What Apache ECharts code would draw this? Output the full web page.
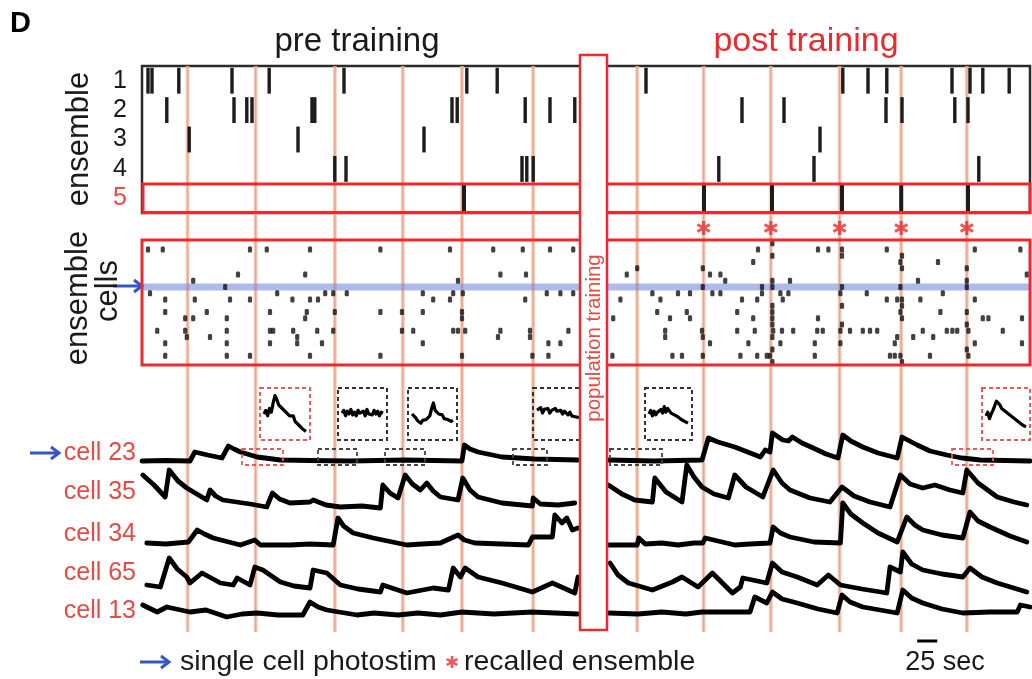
<!DOCTYPE html>
<html><head><meta charset="utf-8">
<script src="https://cdn.jsdelivr.net/npm/echarts@6/dist/echarts.min.js"></script>
<style>html,body{margin:0;padding:0;background:#fff}#c{width:1032px;height:679px}</style>
</head><body><div id="c"></div>
<script>
// ---------------- DATA (time in seconds) ----------------
const stimTimes = [57, 142, 241, 326, 400, 489, 619, 702, 786, 872, 949, 1031];
const recalledTimes = [702, 786, 872, 949, 1031];
const ensembleNames = ['1', '2', '3', '4', '5'];
const ens1 = [7.5, 12.5, 46, 112.5, 159, 252.5, 406, 444, 630, 876, 907.5, 931, 1012.5, 1035, 1051, 1084];
const ens2 = [31, 115, 131, 137.5, 212.5, 216, 387.5, 394, 479, 510, 541, 750, 802.5, 930, 950, 1016, 1032.5];
const ens3 = [59, 195, 352.5, 847.5];
const ens4 = [241, 255, 475, 481, 489, 721, 840, 1046];
const ens5 = [402.5, 702.5, 787.5, 875, 949, 1032.5];

const photostimCell = 7;
const cellRows = [0, 1, 2, 3, 4, 5, 6, 7, 8, 9, 10, 11, 12, 13, 14, 15, 16, 17, 18, 19];
const cellTimes = [
  [788],
  [7.5, 26, 135, 156, 210, 298, 385, 439, 476, 510, 539, 770, 845, 858, 875, 931, 1041, 1098],
  [788, 875, 950],
  [764, 948, 995],
  [619, 701, 950, 1031],
  [120, 204, 448, 480, 606, 710, 723, 1106],
  [64, 395, 729, 788, 810, 970, 1031],
  [104, 701, 775, 788, 875, 948, 1031],
  [10, 169, 229, 239, 256, 351, 389, 401, 506, 523, 539, 638, 670, 685, 713, 723, 775, 798, 808, 873, 906, 1001],
  [29, 66, 110, 135, 188, 210, 220, 364, 385, 479, 598, 648, 750, 769, 801, 931, 944, 950, 973, 1041],
  [788, 875, 950],
  [29, 81, 160, 206, 241, 298, 325, 351, 400, 644, 681, 744, 788, 948, 998, 1031],
  [54, 64, 106, 204, 400, 589, 660, 685, 764, 788, 845, 950, 1051, 1058, 1100],
  [788, 875, 1031],
  [19, 54, 106, 160, 164, 189, 219, 239, 325, 339, 389, 395, 404, 448, 485, 533, 654, 700, 744, 766, 789, 800, 814, 844, 851, 873, 885, 901, 910, 919, 976, 1006, 1013, 1019, 1033, 1076],
  [56, 85, 194, 445, 485, 654, 701, 788, 944, 964, 989],
  [29, 106, 160, 194, 225, 351, 508, 523, 710, 758, 798, 841, 873, 941, 1041, 1100],
  [788, 1031],
  [29, 106, 135, 210, 298, 400, 488, 508, 588, 663, 675, 701, 748, 769, 781, 785, 841, 935, 941, 948, 985, 1033],
  [788, 950]
];

const cellNames = ['cell 23', 'cell 35', 'cell 34', 'cell 65', 'cell 13'];
const c23Pre = [[0,0],[30,0.5],[60,0],[66,9],[82,6],[100,3],[108,15],[115,12],[123,9],[144,4],[173,1],[210,0.5],[260,0],[330,1],[400,0],[403,16],[410,12],[420,9],[450,4],[491,2],[545,1]];
const c23Post = [[583,1],[640,0],[700,1],[708,23],[720,19],[741,14],[773,4],[779,11],[785,9],[788,28],[801,21],[808,20],[813,24],[825,18],[839,13],[855,7],[870,3],[876,26],[886,20],[901,14],[920,8],[944,3],[950,24],[969,16],[985,10],[1006,6],[1025,3],[1048,1],[1110,0]];
const c35Pre = [[1,32],[15,22],[29,10],[34,37],[45,26],[56,19],[81,7],[85,17],[92,11],[101,7],[135,3],[156,0],[163,14],[172,8],[185,4],[210,5],[214,7],[230,2],[248,0],[275,1],[298,-1],[301,22],[310,14],[320,9],[329,32],[338,23],[348,17],[356,24],[364,16],[373,10],[395,7],[401,29],[410,17],[420,10],[450,4],[488,1],[489,9],[498,3],[520,2],[541,4]];
const c35Post = [[583,22],[600,13],[616,7],[638,5],[641,29],[655,15],[675,5],[681,42],[690,30],[700,20],[715,13],[733,9],[741,32],[755,20],[776,10],[789,37],[800,24],[810,17],[835,9],[860,5],[875,20],[890,11],[910,5],[935,0],[948,32],[960,23],[976,19],[991,22],[1010,17],[1026,14],[1031,37],[1045,24],[1069,10],[1090,5],[1106,2]];
const c34Pre = [[6,2],[30,1],[58,3],[69,15],[78,11],[89,7],[123,0],[141,5],[148,0],[185,0],[210,1],[239,0],[245,27],[252,19],[264,12],[289,7],[331,0],[350,1],[373,2],[395,10],[403,5],[416,2],[450,1],[483,0],[488,8],[513,8],[516,30],[525,22],[531,27],[538,15],[545,17]];
const c34Post = [[583,0],[619,0],[621,7],[629,1],[650,2],[670,0],[690,2],[701,2],[704,7],[741,0],[760,1],[785,2],[789,18],[798,12],[810,8],[840,3],[873,2],[876,42],[886,31],[901,22],[920,12],[944,3],[956,28],[966,20],[976,15],[1000,10],[1026,7],[1035,33],[1045,24],[1060,18],[1085,9],[1106,3]];
const c65Pre = [[6,7],[23,5],[34,34],[44,23],[56,15],[60,9],[75,19],[98,9],[114,7],[119,14],[135,7],[141,25],[151,22],[173,10],[190,6],[210,4],[214,22],[231,19],[248,7],[270,3],[298,0],[301,7],[331,-1],[364,4],[383,2],[389,24],[398,15],[404,24],[420,15],[450,9],[488,0],[513,9],[541,-1],[545,15]];
const c65Post = [[585,29],[595,17],[608,9],[638,2],[663,10],[675,15],[695,5],[713,19],[738,-1],[748,5],[751,14],[781,9],[788,29],[800,20],[819,15],[844,7],[858,17],[873,7],[900,3],[931,-1],[935,25],[948,20],[951,40],[962,28],[976,22],[1000,18],[1026,15],[1035,24],[1050,15],[1069,9],[1106,0]];
const c13Pre = [[1,9],[19,2],[31,7],[60,2],[80,4],[106,-3],[125,0],[144,1],[170,-1],[201,-1],[210,12],[220,7],[231,4],[269,-1],[290,1],[320,-1],[345,1],[373,-1],[400,2],[440,0],[488,2],[545,0]];
const c13Post = [[583,1],[620,0],[650,2],[680,0],[700,2],[760,2],[766,17],[781,11],[788,22],[800,15],[819,11],[845,5],[869,1],[875,19],[885,12],[901,7],[944,1],[951,24],[962,16],[976,11],[1000,5],[1026,1],[1060,2],[1094,2],[1098,9],[1110,7]];

const insetA = [24,28,22,30,26,36,44,40,34,36,30,32,26,24,22,20,22,16,14,12,10,8,7,5];
const insetB = [25,28,22,27,24,29,23,26,22,28,25,24,27,22,29,24,26,23,28,24,27,22,26,25];
const insetC = [24,22,20,17,19,14,17,15,18,16,22,30,36,28,26,24,22,23,19,21,18,19,16,17];
const insetD = [28,26,31,25,29,27,30,25,28,26,30,27,26,28,24,27,25,23,26,22,24,21,23,20];
const insetE = [24,28,22,27,23,26,24,29,25,32,26,30,28,25,27,23,24,21,22,18,20,16,17,14];
const insetF = [22,26,19,24,28,33,38,36,34,30,31,27,28,24,25,21,22,18,19,15,16,12,13,10];

const scaleBarStart = 969;
const scaleBarSeconds = 25;

// ---------------- LAYOUT / STYLE ----------------
const L = 142, W = 888, TMAX = 1110;
const RED = '#ec2a2e', TXTRED = '#e64a42', BLUE = '#3555c4', INK = '#1a1a1a';
const FONT = '"Liberation Sans", Arial, sans-serif';
const grids = [], xAxes = [], yAxes = [], series = [];
function addGrid(g, x, y) {
  grids.push(Object.assign({ left: L, width: W, outerBoundsMode: 'none' }, g));
  const i = grids.length - 1;
  xAxes.push(Object.assign({ type: 'value', min: 0, max: TMAX, show: false, gridIndex: i }, x || {}));
  yAxes.push(Object.assign({ type: 'value', show: false, gridIndex: i }, y || {}));
  return i;
}

// background grid for stimulation lines
const gBg = addGrid({ top: 66, height: 566 }, null, { min: 0, max: 1 });
series.push({
  type: 'custom', xAxisIndex: gBg, yAxisIndex: gBg, silent: true, z: 1,
  data: stimTimes.map(t => [t, 0]),
  renderItem: (p, api) => {
    const a = api.coord([api.value(0), 1]), b = api.coord([api.value(0), 0]);
    return { type: 'group', children: [
      { type: 'line', shape: { x1: a[0], y1: a[1], x2: b[0], y2: b[1] }, style: { stroke: 'rgba(244,190,170,0.7)', lineWidth: 4 } },
      { type: 'line', shape: { x1: a[0], y1: a[1], x2: b[0], y2: b[1] }, style: { stroke: 'rgba(236,150,115,0.75)', lineWidth: 1.6 } }
    ] };
  }
});

// ensemble raster
const gEns = addGrid({ top: 66, height: 147, show: true, borderColor: '#2a2a2a', borderWidth: 2.5 }, null, {
  type: 'category', data: ensembleNames, inverse: true, show: true,
  axisLine: { show: false }, axisTick: { show: false }, splitLine: { show: false },
  axisLabel: { interval: 0, fontSize: 25, color: INK, margin: 15, fontFamily: FONT,
    formatter: v => v === '5' ? '{r|5}' : v, rich: { r: { color: TXTRED, fontSize: 25, fontFamily: FONT } } }
});
const ensData = [];
[ens1, ens2, ens3, ens4, ens5].forEach((arr, r) => arr.forEach(t => ensData.push([t, r])));
series.push({
  type: 'custom', xAxisIndex: gEns, yAxisIndex: gEns, silent: true, z: 5, data: ensData,
  renderItem: (p, api) => {
    const c = api.coord([api.value(0), api.value(1)]);
    const h = api.size([0, 1])[1];
    const r = api.value(1);
    const hh = r === 4 ? h * 0.96 : h * 0.88;
    const w = r === 4 ? 4 : 3.4;
    return { type: 'rect', shape: { x: c[0] - w / 2, y: c[1] - hh / 2, width: w, height: hh }, style: { fill: '#1c1c1c' } };
  }
});

// recalled ensemble stars
const STARB = 'path://M8,0h4v6l5.2,-3l2,3.4l-5.2,3l5.2,3l-2,3.4l-5.2,-3v6h-4v-6l-5.2,3l-2,-3.4l5.2,-3l-5.2,-3l2,-3.4l5.2,3z';
const gStar = addGrid({ top: 220, height: 16 }, null, { min: 0, max: 1 });
series.push({
  type: 'scatter', xAxisIndex: gStar, yAxisIndex: gStar, silent: true, z: 5,
  data: recalledTimes.map(t => [t, 0.5]), symbol: STARB, symbolSize: [14, 14],
  itemStyle: { color: RED }
});
// legend star (own little grid)
const gLeg = addGrid({ left: 441, width: 22, top: 652, height: 20 }, { min: 0, max: 1 }, { min: 0, max: 1 });
series.push({
  type: 'scatter', xAxisIndex: gLeg, yAxisIndex: gLeg, silent: true, z: 5,
  data: [[0.5, 0.5]], symbol: STARB, symbolSize: [12, 12], itemStyle: { color: RED }
});

// ensemble cells raster
const gCells = addGrid({ top: 240, height: 125 }, null, { min: -0.5, max: 19.5, inverse: true });
series.push({
  type: 'line', xAxisIndex: gCells, yAxisIndex: gCells, silent: true, z: 3, symbol: 'none',
  data: [[0, photostimCell], [TMAX, photostimCell]],
  lineStyle: { color: 'rgba(120,140,220,0.6)', width: 7 }
});
const dotData = [];
cellRows.forEach((r, i) => cellTimes[i].forEach(t => dotData.push([t, r])));
series.push({
  type: 'scatter', xAxisIndex: gCells, yAxisIndex: gCells, silent: true, z: 5,
  data: dotData, symbol: 'roundRect', symbolSize: [4.2, 6], itemStyle: { color: '#111' }
});

// traces
const baselines = [461, 507, 545, 592, 614];
const traces = [[c23Pre, c23Post], [c35Pre, c35Post], [c34Pre, c34Post], [c65Pre, c65Post], [c13Pre, c13Post]];
traces.forEach((pair, i) => {
  const g = addGrid({ top: baselines[i] - 50, height: 60 }, null, { min: -10, max: 50 });
  pair.forEach(d => series.push({
    type: 'line', xAxisIndex: g, yAxisIndex: g, silent: true, z: 6, data: d,
    symbol: 'none', showSymbol: false, clip: false,
    lineStyle: { color: '#000', width: 4.8, join: 'round', cap: 'round' }
  }));
});

// insets
const insetBoxes = [
  { x: 260, y: 388, w: 50, h: 52, c: '#e9585a', d: insetA },
  { x: 338, y: 388, w: 49, h: 52, c: '#333', d: insetB },
  { x: 408, y: 388, w: 49, h: 52, c: '#333', d: insetC },
  { x: 533, y: 388, w: 50, h: 52, c: '#333', d: insetD },
  { x: 645, y: 388, w: 47, h: 52, c: '#333', d: insetE },
  { x: 982, y: 388, w: 48, h: 52, c: '#e9585a', d: insetF }
];
insetBoxes.forEach(b => {
  const g = addGrid({ left: b.x + 4, width: b.w - 8, top: b.y + 4, height: b.h - 8 },
    { min: 0, max: b.d.length - 1 }, { min: 0, max: 48 });
  series.push({
    type: 'line', xAxisIndex: g, yAxisIndex: g, silent: true, z: 6, symbol: 'none',
    data: b.d.map((v, k) => [k, v]), lineStyle: { color: '#000', width: 3.2, join: 'round' }
  });
});

// scale bar
const gScale = addGrid({ top: 636, height: 10 }, null, { min: -1, max: 1 });
series.push({
  type: 'line', xAxisIndex: gScale, yAxisIndex: gScale, silent: true, symbol: 'none',
  data: [[scaleBarStart, 0], [scaleBarStart + scaleBarSeconds, 0]],
  lineStyle: { color: '#000', width: 3 }
});

// ---------------- GRAPHICS (text & frames) ----------------
function txt(x, y, text, size, color, o) {
  o = o || {};
  const el = { type: 'text', x, y, z: 70, style: { text, fill: color, font: (o.bold ? 'bold ' : '') + size + 'px ' + FONT, align: o.align || 'left', verticalAlign: 'middle' } };
  if (o.rotation !== undefined) el.rotation = o.rotation;
  return el;
}
function arrow(x1, x2, y, color) {
  return { type: 'group', z: 70, children: [
    { type: 'line', shape: { x1, y1: y, x2: x2 - 2, y2: y }, style: { stroke: color, lineWidth: 3 } },
    { type: 'polyline', shape: { points: [[x2 - 8, y - 6], [x2, y], [x2 - 8, y + 6]] }, style: { stroke: color, lineWidth: 3, fill: null } }
  ] };
}
function box(x, y, w, h, color, dashed, lw, z) {
  return { type: 'rect', z: z || 65, shape: { x, y, width: w, height: h },
    style: { stroke: color, lineWidth: lw || 2, fill: null, lineDash: dashed ? [4, 3] : null } };
}
const smallBoxes = [
  [242, 449, 41, 16, '#e9585a'], [318, 449, 39, 16, '#444'], [385, 449, 40, 16, '#444'],
  [513, 449, 34, 16, '#444'], [610, 449, 52, 16, '#444'], [952, 449, 41, 16, '#e9585a']
];
const graphic = [
  txt(10, 24, 'D', 29, '#000', { bold: true }),
  txt(357, 42, 'pre training', 33, INK, { align: 'center' }),
  txt(806, 42, 'post training', 34, RED, { align: 'center' }),
  txt(79, 139, 'ensemble', 31, INK, { align: 'center', rotation: Math.PI / 2 }),
  txt(78, 298, 'ensemble', 31, INK, { align: 'center', rotation: Math.PI / 2 }),
  txt(108, 291, 'cells', 31, INK, { align: 'center', rotation: Math.PI / 2 }),
  box(143, 184, 887, 28.5, RED, false, 3),
  box(142, 240, 888, 125, RED, false, 3),
  arrow(113, 142, 286, BLUE),
  arrow(30, 59, 453, BLUE),
  txt(136, 453, cellNames[0], 25, TXTRED, { align: 'right' }),
  txt(136, 492, cellNames[1], 25, TXTRED, { align: 'right' }),
  txt(136, 534, cellNames[2], 25, TXTRED, { align: 'right' }),
  txt(136, 573, cellNames[3], 25, TXTRED, { align: 'right' }),
  txt(136, 611, cellNames[4], 25, TXTRED, { align: 'right' }),
  { type: 'rect', z: 80, shape: { x: 580, y: 55, width: 27, height: 575 }, style: { stroke: RED, lineWidth: 2.5, fill: '#fff' } },
  Object.assign(txt(594, 338, 'population training', 20.5, TXTRED, { align: 'center', rotation: Math.PI / 2 }), { z: 81 }),
  arrow(140, 169, 662, BLUE),
  txt(180, 662, 'single cell photostim', 28.5, INK),
  txt(464, 662, 'recalled ensemble', 28.5, INK),
  txt(945, 663, '25 sec', 27, INK, { align: 'center' })
];
insetBoxes.forEach(b => graphic.push(box(b.x, b.y, b.w, b.h, b.c, true, 2)));
smallBoxes.forEach(s => graphic.push(box(s[0], s[1], s[2], s[3], s[4], true, 1.8)));

const chart = echarts.init(document.getElementById('c'), null, { renderer: 'canvas' });
chart.setOption({
  animation: false,
  backgroundColor: '#fff',
  textStyle: { fontFamily: FONT },
  grid: grids, xAxis: xAxes, yAxis: yAxes, series, graphic
});
</script></body></html>
